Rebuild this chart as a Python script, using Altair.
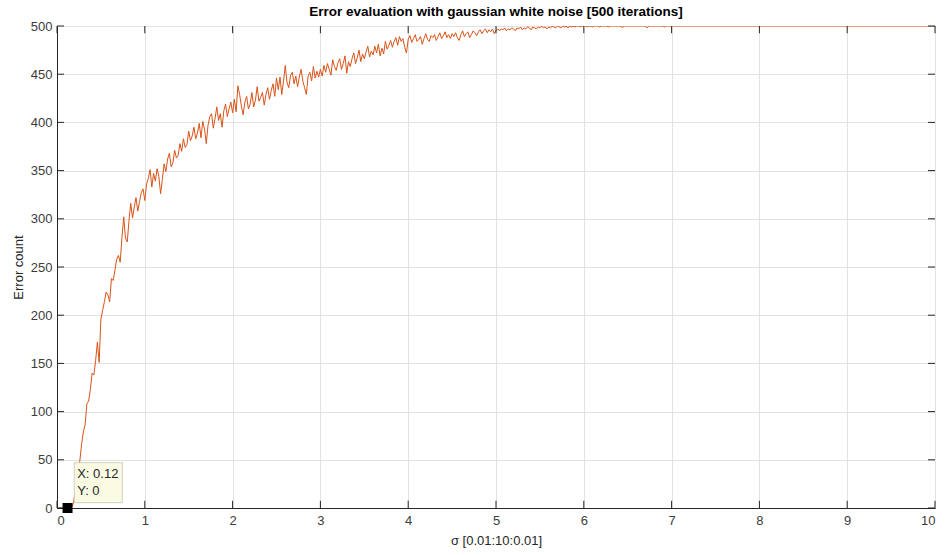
import altair as alt
import pandas as pd

# sigma sampled every 0.02 (reference grid 0.01:10:0.01)
err_0_1 = [0, 0, 0, 0, 0, 0, 0, 0, 3, 12,
           24, 36, 49, 66, 79, 86, 108, 111, 123, 140,
           138, 153, 172, 151, 196, 205, 214, 224, 221, 214,
           238, 236, 247, 258, 262, 255, 281, 302, 280, 276,
           298, 316, 301, 312, 322, 308, 318, 327, 331, 319]
err_1_2 = [336, 342, 351, 333, 347, 339, 352, 344, 326, 341,
           357, 349, 362, 368, 354, 358, 371, 363, 366, 378,
           370, 383, 374, 377, 391, 381, 386, 395, 383, 389,
           399, 384, 401, 393, 378, 397, 406, 409, 394, 404,
           416, 402, 409, 395, 412, 419, 406, 414, 421, 410]
err_2_3 = [424, 411, 438, 429, 417, 408, 421, 427, 414, 419,
           431, 416, 423, 437, 422, 426, 431, 418, 429, 436,
           424, 433, 440, 427, 446, 434, 447, 429, 443, 459,
           441, 436, 449, 452, 440, 448, 437, 447, 455, 443,
           436, 429, 448, 452, 443, 458, 446, 453, 447, 455]
err_3_4 = [448, 459, 452, 461, 455, 449, 465, 458, 454, 462,
           466, 455, 461, 469, 451, 463, 458, 466, 472, 461,
           467, 475, 463, 471, 466, 473, 479, 468, 474, 470,
           479, 472, 481, 469, 477, 471, 484, 476, 480, 485,
           478, 484, 488, 480, 489, 484, 487, 478, 472, 486]
err_4_5 = [490, 483, 487, 491, 484, 486, 489, 481, 487, 492,
           486, 484, 490, 488, 491, 485, 489, 493, 487, 490,
           494, 488, 491, 487, 492, 489, 493, 488, 485, 491,
           495, 489, 492, 494, 488, 491, 495, 493, 490, 494,
           496, 492, 495, 497, 493, 496, 494, 497, 492, 495]
err_5_6 = [497, 495, 497, 496, 498, 495, 497, 496, 498, 497,
           495, 498, 497, 499, 496, 498, 497, 499, 498, 496,
           499, 498, 497, 499, 498, 500, 498, 499, 497, 499,
           498, 500, 499, 498, 500, 499, 498, 500, 499, 500,
           498, 500, 499, 500, 499, 500, 500, 499, 500, 500]
err_6_7 = [500, 499, 500, 500, 499, 500, 500, 500, 499, 500,
           500, 500, 500, 499, 500, 500, 500, 500, 500, 500,
           500, 498, 500, 500, 500, 500, 500, 500, 500, 500,
           500, 500, 500, 500, 500, 498, 500, 500, 500, 500,
           500, 500, 500, 500, 500, 499, 500, 500, 500, 500]
err_7_10 = [500] * 150

errors = err_0_1 + err_1_2 + err_2_3 + err_3_4 + err_4_5 + err_5_6 + err_6_7 + err_7_10
sigma = [round(0.02 * (i + 1), 2) for i in range(len(errors))]

x_ticks = [0, 1, 2, 3, 4, 5, 6, 7, 8, 9, 10]
y_ticks = [0, 50, 100, 150, 200, 250, 300, 350, 400, 450, 500]

tip_x = [0.12]
tip_y = [0]
tip_lines = ["X: 0.12", "Y: 0"]
tip_text_y = [35, 18]
tip_box = {"x": [0.197], "x2": [0.744], "y": [5.5], "y2": [47]}

FONT = "Liberation Sans"
AX = "#262626"
TICK_Y = 7.5   # tick length in y units (~7 px)
TICK_X = 0.08  # tick length in x units (~7 px)

df = pd.DataFrame({"sigma": sigma, "errors": errors})
xs = alt.Scale(domain=[0, 10], nice=False, zero=False)
ys = alt.Scale(domain=[0, 500], nice=False)

line = alt.Chart(df).mark_line(color="#D95319", strokeWidth=1, clip=True).encode(
    x=alt.X("sigma:Q", scale=xs,
            axis=alt.Axis(values=x_ticks, format="d", title="σ [0.01:10:0.01]", grid=True, ticks=False,
                          labelPadding=6, titleX=439, titleY=32, titleBaseline="middle")),
    y=alt.Y("errors:Q", scale=ys,
            axis=alt.Axis(values=y_ticks, format="d", title="Error count", grid=True, ticks=False,
                          labelPadding=5, titleX=-39, titleY=241, titleBaseline="middle")),
)

xt = pd.DataFrame({"t": x_ticks, "lo": [0] * len(x_ticks), "lo2": [TICK_Y] * len(x_ticks),
                   "hi": [500] * len(x_ticks), "hi2": [500 - TICK_Y] * len(x_ticks)})
yt = pd.DataFrame({"t": y_ticks, "lo": [0] * len(y_ticks), "lo2": [TICK_X] * len(y_ticks),
                   "hi": [10] * len(y_ticks), "hi2": [10 - TICK_X] * len(y_ticks)})
tick_bottom = alt.Chart(xt).mark_rule(color=AX, strokeWidth=1).encode(
    x=alt.X("t:Q", scale=xs), y=alt.Y("lo:Q", scale=ys), y2="lo2")
tick_top = alt.Chart(xt).mark_rule(color=AX, strokeWidth=1).encode(
    x=alt.X("t:Q", scale=xs), y=alt.Y("hi:Q", scale=ys), y2="hi2")
tick_left = alt.Chart(yt).mark_rule(color=AX, strokeWidth=1).encode(
    y=alt.Y("t:Q", scale=ys), x=alt.X("lo:Q", scale=xs), x2="lo2")
tick_right = alt.Chart(yt).mark_rule(color=AX, strokeWidth=1).encode(
    y=alt.Y("t:Q", scale=ys), x=alt.X("hi:Q", scale=xs), x2="hi2")

box = alt.Chart(pd.DataFrame(tip_box)).mark_rect(fill="#FBFBE4", stroke="#CFCFC0", strokeWidth=1).encode(
    x="x:Q", x2="x2", y="y:Q", y2="y2")
tip_txt = alt.Chart(pd.DataFrame({"x": [0.23, 0.23], "y": tip_text_y, "t": tip_lines})).mark_text(
    align="left", baseline="middle", font=FONT, fontSize=13, color="#262626").encode(
    x="x:Q", y="y:Q", text="t:N")
marker = alt.Chart(pd.DataFrame({"x": tip_x, "y": tip_y})).mark_square(
    size=100, color="black", opacity=1, filled=True).encode(x="x:Q", y="y:Q")

chart = alt.layer(line, tick_bottom, tick_top, tick_left, tick_right, box, tip_txt, marker).properties(
    width=878, height=482,
    title=alt.TitleParams("Error evaluation with gaussian white noise [500 iterations]",
                          font=FONT, fontSize=13.5, fontWeight="bold", color="black", offset=2),
    padding={"left": 57, "top": 26, "right": 10, "bottom": 47},
    autosize=alt.AutoSizeParams(type="none"),
).configure_view(stroke=AX, strokeWidth=1).configure_axis(
    labelFont=FONT, titleFont=FONT, labelFontSize=13, titleFontSize=13,
    labelColor="#3C3C3C", titleColor="#262626", domainColor=AX, gridColor="#E2E2E2",
    titleFontWeight="normal",
)

chart.save("out.html", embed_options={"renderer": "svg", "actions": False})
